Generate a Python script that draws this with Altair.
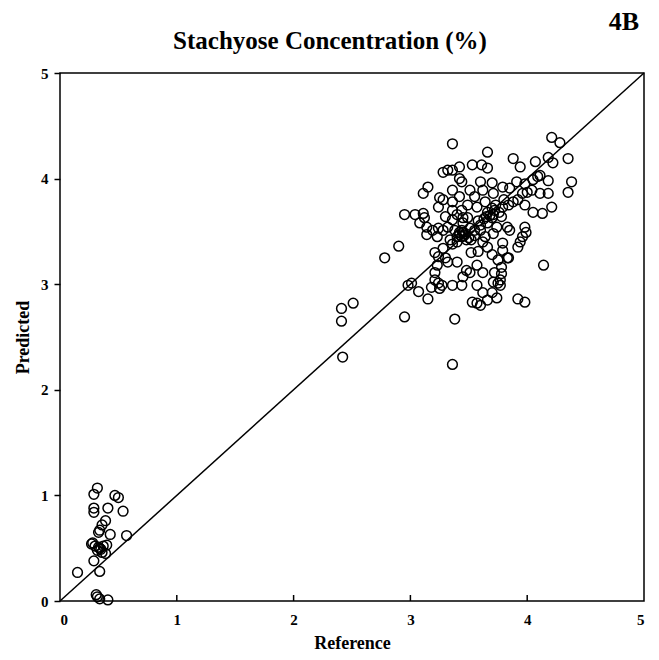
import altair as alt
import pandas as pd

# Low cluster
low_x = [0.15,0.32,0.29,0.29,0.29,0.47,0.50,0.41,0.54,0.39,0.36,0.34,0.33,0.43,0.57,
         0.27,0.30,0.33,0.37,0.40,0.32,0.36,0.39,0.34,0.29,0.34,0.31,0.32,0.34,0.41,0.28,0.35]
low_y = [0.27,1.07,1.01,0.88,0.84,1.00,0.98,0.88,0.85,0.76,0.72,0.67,0.65,0.63,0.62,
         0.54,0.52,0.51,0.52,0.53,0.48,0.46,0.45,0.50,0.38,0.28,0.06,0.04,0.02,0.01,0.55,0.49]

# Middle points
mid_x = [2.51,2.41,2.41,2.42,2.95,2.98,2.78,2.90,2.95]
mid_y = [2.82,2.77,2.65,2.31,2.69,2.99,3.25,3.36,3.66]

# Main cluster
main_x = [3.36,3.66,3.88,4.21,4.28,4.35,4.38,4.35,
          3.28,3.32,3.36,3.42,3.53,3.61,3.66,3.94,4.07,4.18,4.22,
          3.42,3.44,3.60,3.70,4.18,3.11,3.15,3.36,3.51,3.62,
          3.79,3.85,3.91,3.98,4.05,4.09,4.11,3.96,4.00,4.04,4.11,4.18,
          3.25,3.28,3.42,3.55,3.64,3.71,3.24,3.36,3.49,3.57,
          4.21,4.05,4.13,3.98,3.88,3.92,3.84,3.79,3.76,3.78,
          3.04,3.11,3.12,3.30,3.36,3.40,3.44,3.45,3.66,3.71,3.72,
          3.08,3.14,3.19,3.24,3.28,3.14,3.23,3.40,3.42,3.47,3.48,3.60,3.64,3.71,3.74,
          3.36,3.45,3.49,3.32,3.38,3.44,3.51,3.55,3.60,3.66,3.70,
          3.85,3.83,3.98,3.99,3.96,3.94,3.92,3.79,3.79,3.83,4.14,3.78,3.78,
          3.92,3.98,3.74,3.77,3.77,3.84,
          3.38,3.36,3.01,3.07,3.15,3.18,3.25,3.27,3.24,
          3.21,3.21,3.23,3.24,3.21,3.28,3.30,3.32,3.40,
          3.36,3.44,3.45,3.48,3.51,3.57,3.62,3.57,3.62,3.53,3.57,3.60,3.66,3.70,3.71,3.72,3.66,3.70,3.75,3.75,
          3.42,3.45,3.46,3.50,3.52,3.44,3.55,3.40,3.36,3.34,3.65,3.68,3.63,3.58,3.73,3.80,3.70,3.62,3.58,3.52]
main_y = [4.33,4.25,4.19,4.39,4.34,4.19,3.97,3.87,
          4.06,4.08,4.08,4.11,4.13,4.13,4.10,4.11,4.16,4.20,4.15,
          4.00,3.97,3.97,3.96,3.98,3.86,3.92,3.89,3.89,3.89,
          3.92,3.91,3.97,3.95,3.99,4.02,4.03,3.86,3.87,3.89,3.86,3.86,
          3.82,3.80,3.83,3.83,3.78,3.86,3.73,3.78,3.75,3.73,
          3.73,3.68,3.67,3.75,3.78,3.80,3.75,3.73,3.68,3.64,
          3.66,3.67,3.63,3.64,3.70,3.66,3.70,3.63,3.68,3.66,3.70,
          3.58,3.54,3.51,3.53,3.51,3.47,3.45,3.45,3.49,3.48,3.42,3.51,3.45,3.48,3.54,
          3.61,3.58,3.63,3.54,3.51,3.51,3.53,3.51,3.56,3.58,3.63,
          3.51,3.54,3.54,3.49,3.45,3.40,3.35,3.39,3.32,3.25,3.18,3.16,3.10,
          2.86,2.83,2.87,2.99,3.04,3.25,
          2.67,2.24,3.01,2.93,2.86,2.97,2.96,2.99,3.01,
          3.11,3.04,3.18,3.26,3.30,3.34,3.25,3.21,3.21,
          2.99,2.99,3.07,3.13,3.11,3.18,3.11,2.99,2.92,2.83,2.82,2.80,2.85,2.92,3.02,3.11,3.35,3.28,3.23,3.01,
          3.47,3.49,3.46,3.44,3.42,3.45,3.46,3.40,3.38,3.42,3.64,3.65,3.62,3.60,3.75,3.80,3.72,3.40,3.31,3.30]

ref = low_x + mid_x + main_x
pred = low_y + mid_y + main_y
df = pd.DataFrame({"Reference": ref, "Predicted": pred})

line_df = pd.DataFrame({"x": [0, 5], "y": [0, 5]})
tick_df = pd.DataFrame({"t": [1, 2, 3, 4]})
one_df = pd.DataFrame({"k": [0]})

TITLE = "Stachyose Concentration (%)"
PANEL = "4B"
FONT = "Liberation Serif"
W, H = 584, 528

xs = alt.Scale(domain=[0, 5], nice=False, zero=False)
ys = alt.Scale(domain=[0, 5], nice=False, zero=False)

pts = alt.Chart(df).mark_point(
    shape="circle", filled=False, color="black", size=95, strokeWidth=1.5, opacity=1
).encode(
    x=alt.X("Reference:Q", scale=xs,
            axis=alt.Axis(title="Reference", values=[0, 1, 2, 3, 4, 5], format="d",
                          grid=False, ticks=False, domain=False, labelPadding=11,
                          labelFont=FONT, labelFontSize=15, labelFontWeight="bold",
                          labelColor="black", titleFont=FONT, titleFontSize=18,
                          titleFontWeight="bold", titleColor="black", titlePadding=7)),
    y=alt.Y("Predicted:Q", scale=ys,
            axis=alt.Axis(title="Predicted", values=[0, 1, 2, 3, 4, 5], format="d",
                          grid=False, ticks=True, tickSize=6, tickColor="black",
                          tickWidth=1.5, domain=False, labelPadding=6,
                          labelFont=FONT, labelFontSize=15, labelFontWeight="bold",
                          labelColor="black", titleFont=FONT, titleFontSize=18,
                          titleFontWeight="bold", titleColor="black", titlePadding=8)),
)

diag = alt.Chart(line_df).mark_line(color="black", strokeWidth=1.5).encode(
    x=alt.X("x:Q", scale=xs), y=alt.Y("y:Q", scale=ys)
)

xticks = alt.Chart(tick_df).mark_rule(color="black", strokeWidth=1.5).encode(
    x=alt.X("t:Q", scale=xs), y=alt.value(H), y2=alt.value(H - 6)
)

label4b = alt.Chart(one_df).mark_text(
    text=PANEL, font=FONT, fontSize=26, fontWeight="bold", color="black", align="center",
    baseline="middle"
).encode(x=alt.value(564), y=alt.value(-51))

title_txt = alt.Chart(one_df).mark_text(
    text=TITLE, font=FONT, fontSize=25, fontWeight="bold", color="black", align="center",
    baseline="middle"
).encode(x=alt.value(270), y=alt.value(-32))

chart = alt.layer(pts, diag, xticks, label4b, title_txt).properties(
    width=W, height=H,
    background="white",
    autosize=alt.AutoSizeParams(type="none"),
    padding={"left": 52, "top": 65, "right": 7, "bottom": 50},
).configure_view(stroke="black", strokeWidth=1.5)

chart.save("out.html", embed_options={"renderer": "svg", "actions": False})
